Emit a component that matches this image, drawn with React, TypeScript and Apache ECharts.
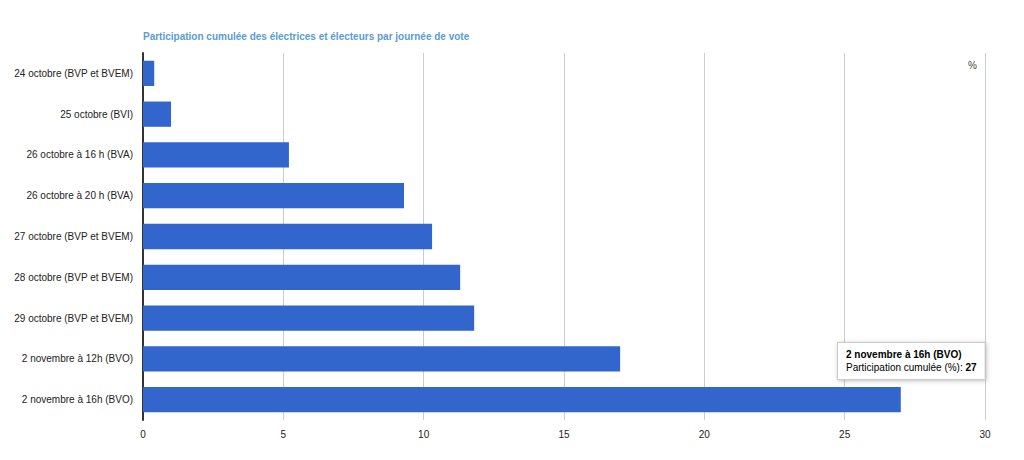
import React, { useEffect, useRef } from "react";
import * as echarts from "echarts";

const categories = [
  "24 octobre (BVP et BVEM)",
  "25 octobre (BVI)",
  "26 octobre à 16 h (BVA)",
  "26 octobre à 20 h (BVA)",
  "27 octobre (BVP et BVEM)",
  "28 octobre (BVP et BVEM)",
  "29 octobre (BVP et BVEM)",
  "2 novembre à 12h (BVO)",
  "2 novembre à 16h (BVO)",
];
const values = [0.4, 1.0, 5.2, 9.3, 10.3, 11.3, 11.8, 17, 27];
const seriesName = "Participation cumulée (%)";
const titleText = "Participation cumulée des électrices et électeurs par journée de vote";

export default function App() {
  const ref = useRef<HTMLDivElement>(null);
  useEffect(() => {
    if (!ref.current) return;
    const chart = echarts.init(ref.current, undefined, { renderer: "svg" });
    const font = "Liberation Sans, Arial, sans-serif";
    const last = values.length - 1;
    chart.setOption({
      animation: false,
      textStyle: { fontFamily: font },
      title: {
        text: titleText,
        left: 138,
        top: 26,
        textStyle: { fontSize: 10, fontWeight: "bold", color: "#5b9bd5", fontFamily: font },
      },
      grid: { left: 143, right: 39, top: 53, bottom: 40 },
      xAxis: {
        type: "value",
        min: 0,
        max: 30,
        interval: 5,
        axisLine: { show: false },
        axisTick: { show: false },
        axisLabel: { color: "#222", fontSize: 10, margin: 9 },
        splitLine: { lineStyle: { color: "#cccccc", width: 1 } },
      },
      yAxis: {
        type: "category",
        inverse: true,
        data: categories,
        axisLine: { show: true, lineStyle: { color: "#333", width: 2 } },
        axisTick: { show: false },
        axisLabel: { color: "#222", fontSize: 10, margin: 10 },
      },
      graphic: [
        {
          type: "text",
          right: 47,
          top: 60,
          style: { text: "%", fill: "#444", font: `10px ${font}` },
        },
      ],
      series: [
        {
          type: "bar",
          name: seriesName,
          barCategoryGap: "38%",
          itemStyle: { color: "#3366cc" },
          data: values.map((v, i) =>
            i === last
              ? {
                  value: v,
                  label: {
                    show: true,
                    position: [695, -44],
                    align: "left",
                    verticalAlign: "top",
                    backgroundColor: "#fff",
                    borderColor: "#cccccc",
                    borderWidth: 1,
                    padding: [5, 8, 5, 8],
                    shadowColor: "rgba(0,0,0,0.25)",
                    shadowBlur: 4,
                    shadowOffsetX: 1,
                    shadowOffsetY: 1,
                    formatter: `{t|${categories[i]}}\n{n|${seriesName}: }{b|${v}}`,
                    rich: {
                      t: { fontWeight: "bold", fontSize: 10, color: "#000", lineHeight: 13 },
                      n: { fontSize: 10, color: "#000", lineHeight: 13 },
                      b: { fontWeight: "bold", fontSize: 10, color: "#000", lineHeight: 13 },
                    },
                  },
                }
              : v
          ),
        },
      ],
    });
    return () => chart.dispose();
  }, []);
  return <div ref={ref} style={{ width: 1024, height: 460, position: "absolute", left: 0, top: 0 }} />;
}
